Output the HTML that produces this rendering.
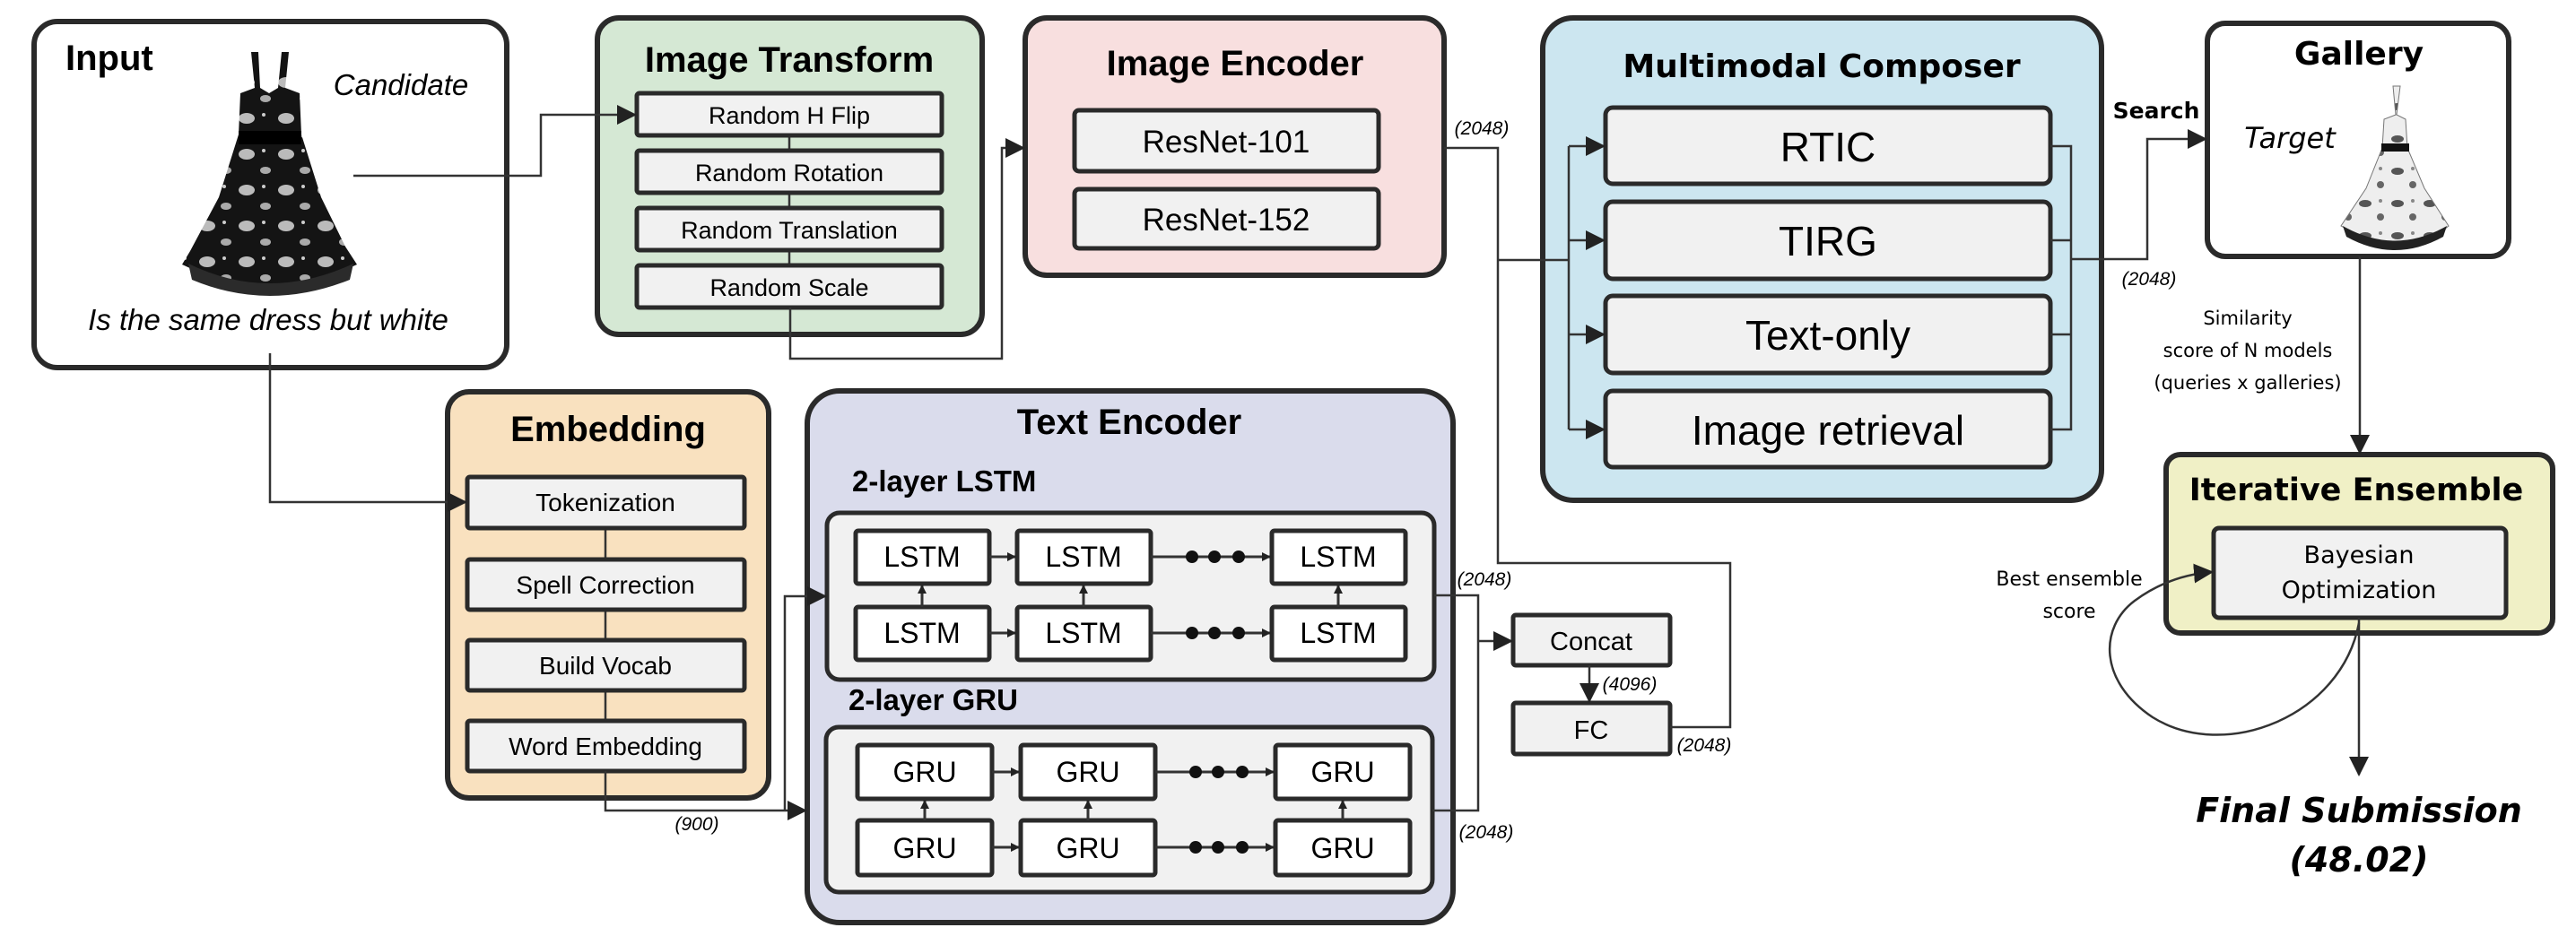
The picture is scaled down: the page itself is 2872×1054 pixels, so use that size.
<!DOCTYPE html>
<html><head><meta charset="utf-8"><style>
html,body{margin:0;padding:0;background:#fff;}
svg{display:block;}
.n{font-family:"Liberation Sans Narrow","Liberation Sans",sans-serif;}
.v{font-family:"DejaVu Sans","Liberation Sans",sans-serif;}
</style></head><body>
<svg width="2872" height="1054" viewBox="0 0 2872 1054" xmlns="http://www.w3.org/2000/svg">
<defs>
<marker id="a" markerWidth="10" markerHeight="10" refX="9" refY="5" orient="auto" markerUnits="userSpaceOnUse" viewBox="0 0 10 10"><path d="M0,0 L10,5 L0,10 z" fill="#222"/></marker>
<marker id="A" markerWidth="22" markerHeight="22" refX="20" refY="11" orient="auto" markerUnits="userSpaceOnUse" viewBox="0 0 22 22"><path d="M0,0 L22,11 L0,22 z" fill="#222"/></marker>
<pattern id="flw" width="44" height="40" patternUnits="userSpaceOnUse"><rect width="44" height="40" fill="#141414"/><ellipse cx="11" cy="12" rx="9" ry="6" fill="#bbb"/><ellipse cx="32" cy="30" rx="6" ry="4" fill="#aaa"/><circle cx="30" cy="8" r="2" fill="#ccc"/></pattern>
<pattern id="flw2" width="36" height="36" patternUnits="userSpaceOnUse"><rect width="36" height="36" fill="#eee"/><ellipse cx="9" cy="11" rx="7" ry="4" fill="#555"/><circle cx="26" cy="26" r="4" fill="#666"/><circle cx="26" cy="8" r="2" fill="#888"/></pattern>
</defs>
<g stroke="#2a2a2a" stroke-width="6">
<rect x="38" y="24" width="527" height="386" rx="26" fill="#fff"/>
<rect x="666" y="20" width="429" height="353" rx="24" fill="#d5e8d4"/>
<rect x="1143" y="20" width="467" height="287" rx="24" fill="#f8dfdf"/>
<rect x="1720" y="20" width="623" height="538" rx="34" fill="#cce6f0"/>
<rect x="2461" y="26" width="336" height="260" rx="20" fill="#fff"/>
<rect x="499" y="437" width="358" height="453" rx="24" fill="#f9e1bf"/>
<rect x="900" y="436" width="720" height="593" rx="36" fill="#dadcec"/>
<rect x="2415" y="507" width="431" height="199" rx="16" fill="#f0f0c6"/>
</g>
<g stroke="#333" stroke-width="2.5">
<line x1="880" y1="151" x2="880" y2="296"/>
<line x1="675" y1="589" x2="675" y2="804"/>
</g>
<g stroke="#2a2a2a" stroke-width="5" fill="#f1f1f1">
<rect x="710" y="104" width="340" height="47" rx="3"/>
<rect x="710" y="168" width="340" height="47" rx="3"/>
<rect x="710" y="232" width="340" height="47" rx="3"/>
<rect x="710" y="296" width="340" height="47" rx="3"/>
<rect x="1198" y="123" width="339" height="68" rx="5"/>
<rect x="1198" y="211" width="339" height="66" rx="5"/>
<rect x="1790" y="120" width="496" height="85" rx="8"/>
<rect x="1790" y="225" width="496" height="86" rx="8"/>
<rect x="1790" y="330" width="496" height="86" rx="8"/>
<rect x="1790" y="436" width="496" height="85" rx="8"/>
<rect x="521" y="532" width="309" height="57" rx="3"/>
<rect x="521" y="624" width="309" height="56" rx="3"/>
<rect x="521" y="714" width="309" height="56" rx="3"/>
<rect x="521" y="804" width="309" height="56" rx="3"/>
<rect x="922" y="572" width="677" height="186" rx="14"/>
<rect x="921" y="811" width="676" height="184" rx="14"/>
<rect x="1687" y="686" width="175" height="56" rx="3"/>
<rect x="1687" y="784" width="175" height="57" rx="3"/>
<rect x="2468" y="589" width="326" height="100" rx="6"/>
</g>
<g stroke="#2a2a2a" stroke-width="5" fill="#fff">
<rect x="954" y="592" width="149" height="59" rx="3"/><rect x="1134" y="592" width="149" height="59" rx="3"/><rect x="1418" y="592" width="149" height="59" rx="3"/>
<rect x="954" y="677" width="149" height="59" rx="3"/><rect x="1134" y="677" width="149" height="59" rx="3"/><rect x="1418" y="677" width="149" height="59" rx="3"/>
<rect x="956" y="831" width="150" height="60" rx="3"/><rect x="1138" y="831" width="150" height="60" rx="3"/><rect x="1422" y="831" width="150" height="60" rx="3"/>
<rect x="956" y="915" width="150" height="61" rx="3"/><rect x="1138" y="915" width="150" height="61" rx="3"/><rect x="1422" y="915" width="150" height="61" rx="3"/>
</g>
<g stroke="#333" stroke-width="2.5" fill="none">
<polyline points="394,196 603,196 603,128 708,128" marker-end="url(#A)"/>
<polyline points="881,343 881,400 1117,400 1117,165 1141,165" marker-end="url(#A)"/>
<polyline points="301,394 301,560 519,560" marker-end="url(#A)"/>
<polyline points="675,860 675,904 898,904" marker-end="url(#A)"/>
<polyline points="875,904 875,665 920,665" marker-end="url(#A)"/>
<polyline points="1610,165 1670,165 1670,628 1929,628 1929,811 1862,811"/>
<line x1="1670" y1="290" x2="1749" y2="290"/>
<line x1="1749" y1="163" x2="1749" y2="479"/>
<line x1="1749" y1="163" x2="1788" y2="163" marker-end="url(#A)"/>
<line x1="1749" y1="268" x2="1788" y2="268" marker-end="url(#A)"/>
<line x1="1749" y1="373" x2="1788" y2="373" marker-end="url(#A)"/>
<line x1="1749" y1="479" x2="1788" y2="479" marker-end="url(#A)"/>
<polyline points="2286,163 2309,163 2309,479 2286,479"/>
<line x1="2286" y1="268" x2="2309" y2="268"/><line x1="2286" y1="373" x2="2309" y2="373"/>
<polyline points="2309,289 2394,289 2394,155 2459,155" marker-end="url(#A)"/>
<polyline points="1599,664 1648,664 1648,904 1597,904"/>
<line x1="1648" y1="715" x2="1685" y2="715" marker-end="url(#A)"/>
<line x1="1772" y1="742" x2="1772" y2="782" marker-end="url(#A)"/>
<line x1="2631" y1="286" x2="2631" y2="505" marker-end="url(#A)"/>
<line x1="2630" y1="689" x2="2630" y2="864" marker-end="url(#A)"/>
<path d="M2630,695 C2610,800 2480,850 2400,800 C2340,760 2340,700 2380,670 C2410,648 2440,640 2466,638" marker-end="url(#A)"/>
<g stroke-width="3">
<line x1="1103" y1="621" x2="1132" y2="621" marker-end="url(#a)"/><line x1="1103" y1="706" x2="1132" y2="706" marker-end="url(#a)"/>
<line x1="1106" y1="861" x2="1136" y2="861" marker-end="url(#a)"/><line x1="1106" y1="945" x2="1136" y2="945" marker-end="url(#a)"/>
<line x1="1283" y1="621" x2="1416" y2="621" marker-end="url(#a)"/><line x1="1283" y1="706" x2="1416" y2="706" marker-end="url(#a)"/>
<line x1="1288" y1="861" x2="1420" y2="861" marker-end="url(#a)"/><line x1="1288" y1="945" x2="1420" y2="945" marker-end="url(#a)"/>
<line x1="1028" y1="677" x2="1028" y2="653" marker-end="url(#a)"/><line x1="1208" y1="677" x2="1208" y2="653" marker-end="url(#a)"/><line x1="1492" y1="677" x2="1492" y2="653" marker-end="url(#a)"/>
<line x1="1031" y1="915" x2="1031" y2="893" marker-end="url(#a)"/><line x1="1213" y1="915" x2="1213" y2="893" marker-end="url(#a)"/><line x1="1497" y1="915" x2="1497" y2="893" marker-end="url(#a)"/>
</g>
</g>
<g fill="#111">
<circle cx="1329" cy="621" r="7"/><circle cx="1354" cy="621" r="7"/><circle cx="1381" cy="621" r="7"/>
<circle cx="1329" cy="706" r="7"/><circle cx="1354" cy="706" r="7"/><circle cx="1381" cy="706" r="7"/>
<circle cx="1333" cy="861" r="7"/><circle cx="1358" cy="861" r="7"/><circle cx="1385" cy="861" r="7"/>
<circle cx="1333" cy="945" r="7"/><circle cx="1358" cy="945" r="7"/><circle cx="1385" cy="945" r="7"/>
</g>
<g>
<path d="M280,58 L284,98 L268,104 L266,150 L244,220 L212,280 L203,295 L240,312 L300,322 L360,312 L398,295 L385,275 L358,220 L336,150 L334,104 L318,98 L322,58 L314,58 L310,98 L300,104 L290,98 L288,58 z" fill="url(#flw)"/>
<rect x="266" y="146" width="70" height="15" fill="#000"/>
<path d="M210,294 Q300,338 394,294 L390,312 Q300,348 214,312 z" fill="#2b2b2b"/>
<path d="M2668,96 L2671,128 L2658,133 L2656,165 L2638,210 L2610,252 L2640,268 L2670,274 L2710,268 L2730,252 L2703,210 L2684,165 L2682,133 L2672,128 L2676,96 z" fill="url(#flw2)" stroke="#777" stroke-width="1"/>
<rect x="2655" y="160" width="31" height="9" fill="#111"/>
<path d="M2612,252 Q2670,285 2728,252 L2724,264 Q2670,294 2616,264 z" fill="#222"/>
</g>
<g class="n" fill="#000" text-anchor="middle">
<text x="73" y="78" font-size="40" font-weight="bold" text-anchor="start">Input</text>
<text x="447" y="106" font-size="33" font-style="italic">Candidate</text>
<text x="299" y="368" font-size="33" font-style="italic">Is the same dress but white</text>
<text x="880" y="80" font-size="40" font-weight="bold">Image Transform</text>
<text x="880" y="138" font-size="27">Random H Flip</text>
<text x="880" y="202" font-size="27">Random Rotation</text>
<text x="880" y="266" font-size="27">Random Translation</text>
<text x="880" y="330" font-size="27">Random Scale</text>
<text x="1377" y="84" font-size="40" font-weight="bold">Image Encoder</text>
<text x="1367" y="170" font-size="35">ResNet-101</text>
<text x="1367" y="257" font-size="35">ResNet-152</text>
<text x="678" y="492" font-size="40" font-weight="bold">Embedding</text>
<text x="675" y="570" font-size="28">Tokenization</text>
<text x="675" y="662" font-size="28">Spell Correction</text>
<text x="675" y="752" font-size="28">Build Vocab</text>
<text x="675" y="842" font-size="28">Word Embedding</text>
<text x="1259" y="484" font-size="40" font-weight="bold">Text Encoder</text>
<text x="950" y="548" font-size="33" font-weight="bold" text-anchor="start">2-layer LSTM</text>
<text x="946" y="792" font-size="33" font-weight="bold" text-anchor="start">2-layer GRU</text>
<g font-size="32"><text x="1028" y="632">LSTM</text><text x="1208" y="632">LSTM</text><text x="1492" y="632">LSTM</text>
<text x="1028" y="717">LSTM</text><text x="1208" y="717">LSTM</text><text x="1492" y="717">LSTM</text>
<text x="1031" y="872">GRU</text><text x="1213" y="872">GRU</text><text x="1497" y="872">GRU</text>
<text x="1031" y="957">GRU</text><text x="1213" y="957">GRU</text><text x="1497" y="957">GRU</text></g>
<text x="1774" y="725" font-size="29">Concat</text>
<text x="1774" y="824" font-size="29">FC</text>
<g font-size="21" font-style="italic">
<text x="777" y="926">(900)</text>
<text x="1652" y="150">(2048)</text>
<text x="1655" y="653">(2048)</text>
<text x="1657" y="935">(2048)</text>
<text x="1817" y="770">(4096)</text>
<text x="1900" y="838">(2048)</text>
<text x="2396" y="318">(2048)</text>
</g>
<g font-size="46"><text x="2038" y="180">RTIC</text><text x="2038" y="285">TIRG</text><text x="2038" y="390">Text-only</text><text x="2038" y="496">Image retrieval</text></g>
</g>
<g class="v" fill="#000" text-anchor="middle">
<text x="2031" y="86" font-size="36" font-weight="bold">Multimodal Composer</text>
<text x="2404" y="132" font-size="25" font-weight="bold">Search</text>
<text x="2630" y="72" font-size="36" font-weight="bold">Gallery</text>
<text x="2553" y="165" font-size="32" font-style="italic">Target</text>
<text x="2506" y="362" font-size="21">Similarity</text>
<text x="2506" y="398" font-size="21">score of N models</text>
<text x="2506" y="434" font-size="21">(queries x galleries)</text>
<text x="2627" y="558" font-size="35" font-weight="bold">Iterative Ensemble</text>
<text x="2630" y="628" font-size="27">Bayesian</text>
<text x="2630" y="667" font-size="27">Optimization</text>
<text x="2307" y="653" font-size="22">Best ensemble</text>
<text x="2307" y="689" font-size="22">score</text>
<text x="2630" y="917" font-size="38" font-weight="bold" font-style="italic">Final Submission</text>
<text x="2630" y="972" font-size="38" font-weight="bold" font-style="italic">(48.02)</text>
</g>
</svg>
</body></html>
